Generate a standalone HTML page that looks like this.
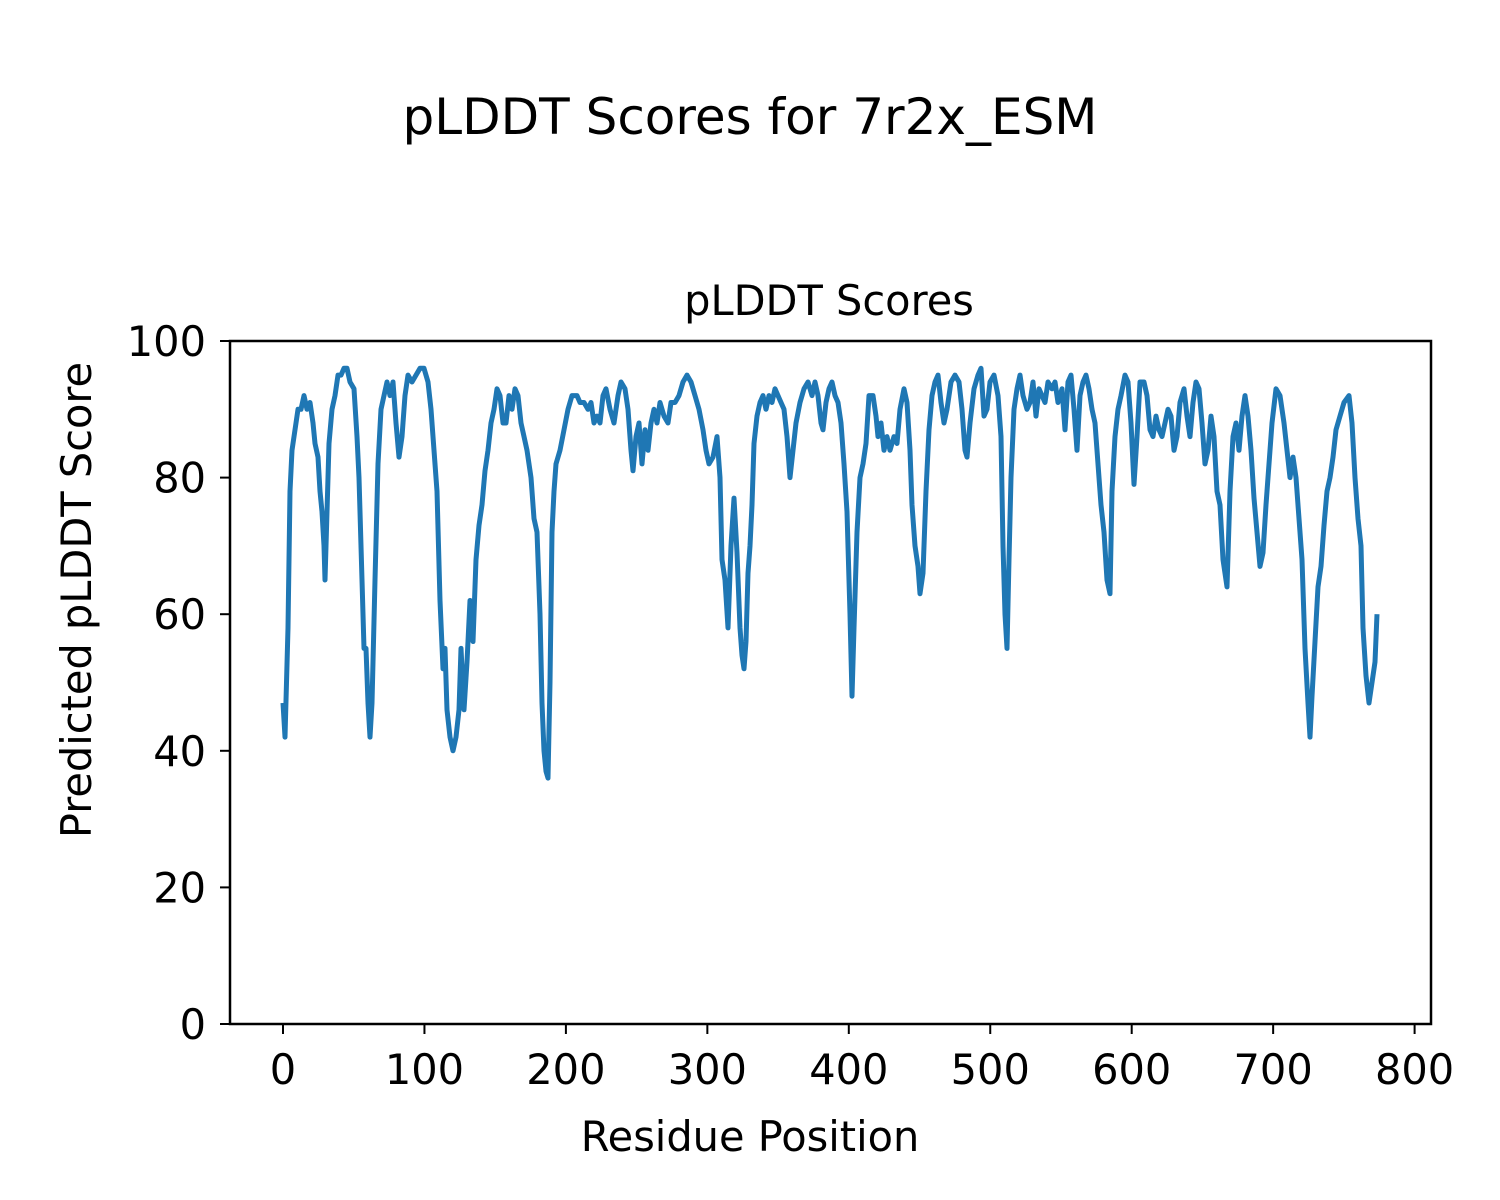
<!DOCTYPE html>
<html><head><meta charset="utf-8"><style>body{margin:0;background:#fff}svg{display:block}text{font-family:"DejaVu Sans","Liberation Sans",sans-serif;fill:#000}</style></head>
<body>
<svg id="s" width="1500" height="1200" viewBox="0 0 1500 1200">
<rect width="1500" height="1200" fill="#fff"/>
<text x="750" y="134" font-size="50" text-anchor="middle">pLDDT Scores for 7r2x_ESM</text>
<text x="829" y="315" font-size="41.5" text-anchor="middle">pLDDT Scores</text>
<text x="750" y="1151" font-size="41.5" text-anchor="middle">Residue Position</text>
<text transform="translate(91,600) rotate(-90)" font-size="41.5" text-anchor="middle">Predicted pLDDT Score</text>
<g id="ticks"></g>
<polyline id="line" fill="none" stroke="#1f77b4" stroke-width="5" stroke-linejoin="round" points=""/>
<rect x="230" y="341" width="1201" height="683" fill="none" stroke="#000" stroke-width="2.5"/>
</svg>
<script>
var d=[283,47,285,42,288,58,290,78,292,84,295,87,298,90,301,90,304,92,307,90,310,91,313,88,315,85,318,83,320,78,322,75,324,70,325,65,327,75,329,85,332,90,335,92,338,95,341,95,344,96,347,96,350,94,354,93,357,86,359,80,362,65,364,55,366,55,368,47,370,42,372,47,375,65,378,82,381,90,384,92,387,94,390,92,393,94,396,88,399,83,402,86,405,92,408,95,412,94,416,95,420,96,424,96,428,94,431,90,434,84,437,78,440,62,443,52,445,55,447,46,450,42,453,40,456,42,459,46,461,55,464,46,467,53,470,62,473,56,476,68,479,73,482,76,485,81,488,84,491,88,494,90,497,93,500,92,503,88,506,88,509,92,512,90,515,93,518,92,521,88,524,86,527,84,531,80,534,74,537,72,540,60,542,47,544,40,546,37,548,36,550,50,552,72,554,78,556,82,560,84,564,87,568,90,572,92,577,92,580,91,584,91,588,90,591,91,594,88,597,89,600,88,603,92,606,93,610,90,614,88,618,92,621,94,625,93,628,90,631,84,633,81,636,86,639,88,642,82,645,87,648,84,651,88,654,90,657,88,660,91,664,89,668,88,671,91,675,91,679,92,683,94,687,95,691,94,695,92,699,90,703,87,706,84,709,82,713,83,717,86,720,80,722,68,725,65,728,58,731,70,734,77,737,69,740,58,742,54,744,52,746,56,748,66,750,70,752,76,754,85,757,89,760,91,763,92,766,90,769,92,772,91,775,93,778,92,781,91,784,90,787,86,790,80,793,84,796,88,800,91,804,93,808,94,812,92,815,94,818,92,821,88,823,87,826,91,829,93,832,94,835,92,838,91,841,88,844,82,847,75,850,60,852,48,854,58,857,72,860,80,863,82,866,85,869,92,873,92,876,89,878,86,881,88,884,84,887,86,890,84,894,86,897,85,900,90,904,93,907,91,910,84,912,76,915,70,918,67,920,63,923,66,926,78,929,87,932,92,935,94,938,95,941,91,944,88,947,90,951,94,955,95,959,94,962,90,965,84,967,83,970,88,974,93,978,95,981,96,984,89,987,90,990,94,994,95,998,92,1001,86,1003,70,1005,60,1007,55,1009,68,1011,80,1014,90,1017,93,1020,95,1023,92,1027,90,1030,91,1033,94,1036,89,1039,93,1042,92,1045,91,1048,94,1052,93,1055,94,1058,91,1062,93,1065,87,1068,94,1071,95,1074,90,1077,84,1080,92,1083,94,1086,95,1089,93,1092,90,1095,88,1098,82,1101,76,1104,72,1107,65,1110,63,1112,78,1115,86,1118,90,1121,92,1125,95,1128,94,1131,88,1134,79,1137,86,1140,94,1144,94,1147,92,1150,87,1153,86,1156,89,1159,87,1162,86,1165,88,1168,90,1171,89,1174,84,1177,86,1180,91,1184,93,1187,89,1190,86,1193,91,1196,94,1199,93,1202,88,1205,82,1208,84,1211,89,1214,86,1217,78,1220,76,1223,68,1227,64,1230,78,1233,86,1236,88,1239,84,1242,89,1245,92,1248,89,1251,84,1254,77,1257,72,1260,67,1263,69,1266,76,1269,82,1272,88,1276,93,1280,92,1284,88,1287,84,1290,80,1293,83,1296,80,1299,74,1302,68,1305,55,1308,47,1310,42,1312,48,1315,56,1318,64,1321,67,1324,73,1327,78,1330,80,1333,83,1336,87,1340,89,1344,91,1349,92,1352,88,1355,80,1358,74,1361,70,1363,58,1366,51,1369,47,1372,50,1375,53,1377,60];
var p=[];for(var i=0;i<d.length;i+=2)p.push(d[i]+','+(1024-d[i+1]*6.83).toFixed(1));
document.getElementById('line').setAttribute('points',p.join(' '));
var g=document.getElementById('ticks'),h='';
for(var k=0;k<=8;k++){var x=283+k*141.45;h+='<line x1="'+x+'" y1="1024" x2="'+x+'" y2="1034" stroke="#000" stroke-width="2"/><text x="'+x+'" y="1084" font-size="41.5" text-anchor="middle">'+(k*100)+'</text>';}
for(var k=0;k<=5;k++){var y=1024-k*136.6;h+='<line x1="220" y1="'+y+'" x2="230" y2="'+y+'" stroke="#000" stroke-width="2"/><text x="206" y="'+(y+15)+'" font-size="41.5" text-anchor="end">'+(k*20)+'</text>';}
g.innerHTML=h;
</script>
</body></html>
